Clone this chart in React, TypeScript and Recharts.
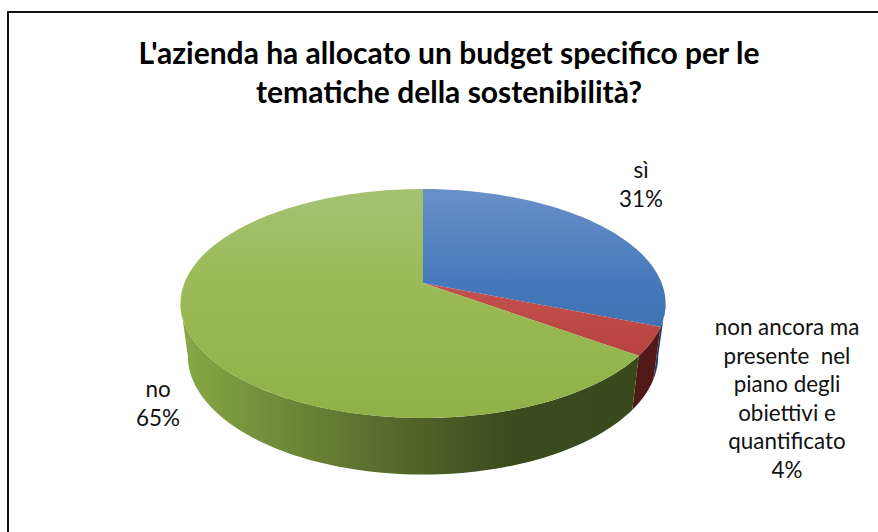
import { Pie, PieChart } from "recharts";

const categories = ["sì", "non ancora ma presente nel piano degli obiettivi e quantificato", "no"];
const shares = [31, 4, 65];
const labelLines = [
    ["sì"],
    ["non ancora ma", "presente  nel", "piano degli", "obiettivi e", "quantificato"],
    ["no"],
];
const titleLines = ["L'azienda ha allocato un budget specifico per le", "tematiche della sostenibilità?"];

const topFills = ["url(#topBlue)", "url(#topRed)", "url(#topGreen)"];
const wallFills = ["#1f3f6b", "url(#wallRed)", "url(#wallGreen)"];
const labelAnchors = [
    { x: 641, y: 178 },
    { x: 787, y: 335 },
    { x: 158, y: 397 },
];

const pieData = categories.map((name, i) => ({ name, value: shares[i] }));

const W = 878;
const H = 532;
const CX = 423;
const CY = 283;
const RADIUS = 238.6;

// tilted disc: squash in y, and k pulls the far edge in for the perspective
const SQUASH = 0.4644;
const K = 0.179;
const ELLIPSE_DROP = 20.5;
const BOTTOM_DROP = 52;
const BOTTOM_SCALE_X = 0.97;
const BOTTOM_SCALE_Y = 1.04;
const WALL_FROM = 100.3;
const WALL_TO = 259.7;

const project = (cx: number, cy: number, r: number, deg: number) => {
    const t = (deg * Math.PI) / 180;
    const u = Math.sin(t);
    const v = -Math.cos(t);
    const d = 1 - K * v;
    return { x: cx + (r * u) / d, y: cy + (r * SQUASH * v) / d };
};

const dropToBottom = (p: { x: number; y: number }, cx: number, cy: number) => ({
    x: cx + (p.x - cx) * BOTTOM_SCALE_X,
    y: cy + ELLIPSE_DROP + BOTTOM_DROP + (p.y - cy - ELLIPSE_DROP) * BOTTOM_SCALE_Y,
});

const sweep = (from: number, to: number) => {
    const steps = Math.max(2, Math.ceil((to - from) / 1.5));
    const out: number[] = [];
    for (let i = 0; i <= steps; i++) out.push(from + ((to - from) * i) / steps);
    return out;
};

const toPath = (pts: { x: number; y: number }[]) =>
    pts.map((p, i) => `${i ? "L" : "M"}${p.x.toFixed(2)} ${p.y.toFixed(2)}`).join(" ") + " Z";

function TiltedSlice(props: any) {
    const { cx, cy, outerRadius, startAngle, endAngle, name } = props;
    const idx = categories.indexOf(name);
    const from = 90 - startAngle;
    const to = 90 - endAngle;

    const rim = sweep(from, to).map((a) => project(cx, cy, outerRadius, a));
    const top = toPath([{ x: cx, y: cy }, ...rim]);

    const wallStart = Math.max(from, WALL_FROM);
    const wallEnd = Math.min(to, WALL_TO);
    let wall = "";
    if (wallEnd > wallStart) {
        const upper = sweep(wallStart, wallEnd).map((a) => project(cx, cy, outerRadius, a));
        const lower = upper.map((p) => dropToBottom(p, cx, cy)).reverse();
        wall = toPath([...upper, ...lower]);
    }

    return (
        <g>
            {wall && <path d={wall} fill={wallFills[idx]} />}
            <path d={top} fill={topFills[idx]} />
        </g>
    );
}

function SliceLabel(props: any) {
    const idx = categories.indexOf(props.name);
    const { x, y } = labelAnchors[idx];
    const lines = [...labelLines[idx], `${shares[idx]}%`];
    return (
        <text x={x} y={y} textAnchor="middle" fontFamily="Lato" fontSize={22.4} fill="#111">
            {lines.map((line, i) => (
                <tspan key={i} x={x} dy={i ? 28.6 : 0} style={{ whiteSpace: "pre" }}>
                    {line}
                </tspan>
            ))}
        </text>
    );
}

export default function App() {
    return (
        <div style={{ position: "absolute", left: 0, top: 0, width: W, height: H, overflow: "hidden", background: "#fff" }}>
            <div
                style={{
                    position: "absolute",
                    left: 7,
                    top: 11,
                    width: W,
                    height: H,
                    borderLeft: "2px solid #111",
                    borderTop: "2px solid #111",
                }}
            />
            <div
                style={{
                    position: "absolute",
                    left: 0,
                    top: 33,
                    width: 898,
                    textAlign: "center",
                    fontFamily: "Lato",
                    fontWeight: 700,
                    fontSize: 30,
                    lineHeight: "39px",
                    color: "#000",
                }}
            >
                {titleLines.map((line) => (
                    <div key={line}>{line}</div>
                ))}
            </div>
            <div style={{ position: "absolute", left: 0, top: 0 }}>
                <PieChart width={W} height={H} margin={{ top: 0, right: 0, bottom: 0, left: 0 }}>
                    <defs>
                        <linearGradient id="topBlue" gradientUnits="userSpaceOnUse" x1="0" y1="189" x2="0" y2="330">
                            <stop offset="0" stopColor="#6a90c8" />
                            <stop offset="0.65" stopColor="#4679bb" />
                            <stop offset="1" stopColor="#3f72b2" />
                        </linearGradient>
                        <linearGradient id="topRed" gradientUnits="userSpaceOnUse" x1="0" y1="283" x2="0" y2="355">
                            <stop offset="0" stopColor="#c2524f" />
                            <stop offset="1" stopColor="#b8423f" />
                        </linearGradient>
                        <linearGradient id="topGreen" gradientUnits="userSpaceOnUse" x1="0" y1="189" x2="0" y2="418">
                            <stop offset="0" stopColor="#a5c272" />
                            <stop offset="0.5" stopColor="#98b953" />
                            <stop offset="1" stopColor="#8fb147" />
                        </linearGradient>
                        <linearGradient id="wallGreen" gradientUnits="userSpaceOnUse" x1="182" y1="0" x2="640" y2="0">
                            <stop offset="0" stopColor="#86a845" />
                            <stop offset="0.22" stopColor="#6f8a39" />
                            <stop offset="0.45" stopColor="#566b2c" />
                            <stop offset="0.72" stopColor="#3a4b1d" />
                            <stop offset="1" stopColor="#384a1c" />
                        </linearGradient>
                        <linearGradient id="wallRed" gradientUnits="userSpaceOnUse" x1="636" y1="0" x2="662" y2="0">
                            <stop offset="0" stopColor="#4e1a18" />
                            <stop offset="1" stopColor="#541816" />
                        </linearGradient>
                    </defs>
                    <Pie
                        data={pieData}
                        dataKey="value"
                        nameKey="name"
                        cx={CX}
                        cy={CY}
                        innerRadius={0}
                        outerRadius={RADIUS}
                        startAngle={90}
                        endAngle={-270}
                        stroke="none"
                        shape={TiltedSlice}
                        label={SliceLabel}
                        labelLine={false}
                        isAnimationActive={false}
                    />
                </PieChart>
            </div>
        </div>
    );
}
